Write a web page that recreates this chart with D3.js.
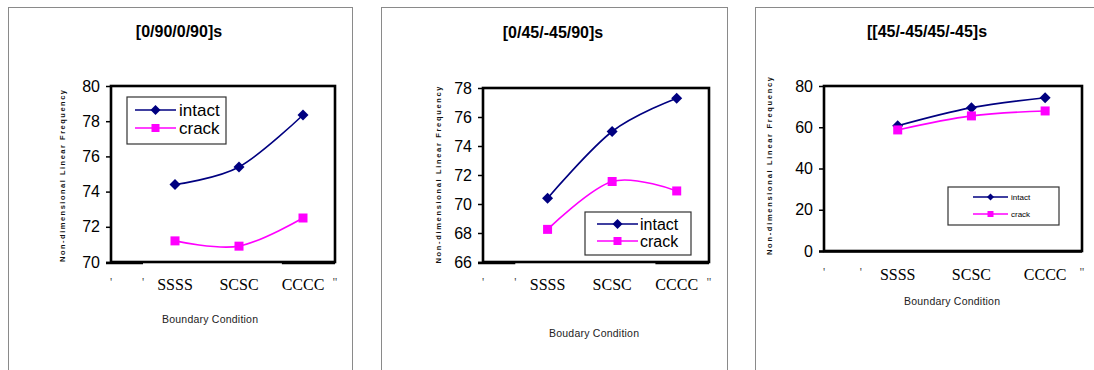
<!DOCTYPE html>
<html>
<head>
<meta charset="utf-8">
<script src="https://cdn.jsdelivr.net/npm/d3@7"></script>
<style>
  html, body { margin: 0; padding: 0; background: #fff; }
  svg { display: block; }
</style>
</head>
<body>
<svg id="chart" width="1094" height="370"></svg>
<script>
// ---- data ----
const categories = ["SSSS", "SCSC", "CCCC"];
const categoryX = [1, 2, 3];
const xTickValues = [0, 0.5, 1, 2, 3, 3.5];
const xTickLabels = ["'", "'", "SSSS", "SCSC", "CCCC", "''"];
const seriesNames = ["intact", "crack"];

const titles = ["[0/90/0/90]s", "[0/45/-45/90]s", "[[45/-45/45/-45]s"];
const xTitles = ["Boundary Condition", "Boudary Condition", "Boundary Condition"];
const yTitle = "Non-dimensional Linear Frequency";

const intactA = [74.4, 75.4, 78.35];
const crackA  = [71.2, 70.9, 72.5];
const intactB = [70.4, 75.0, 77.3];
const crackB  = [68.25, 71.55, 70.9];
const intactC = [60.7, 69.5, 74.3];
const crackC  = [58.7, 65.5, 67.9];

const yTicksA = [70, 72, 74, 76, 78, 80];
const yTicksB = [66, 68, 70, 72, 74, 76, 78];
const yTicksC = [0, 20, 40, 60, 80];

// ---- layout ----
const panels = [
  {
    frame: { x: 8, y: 7, w: 344, h: 400 },
    plot: { l: 111, t: 86, r: 335, b: 262 },
    title: { x: 179, y: 37 },
    yTitle: { x: 65, y: 176, len: 172 },
    xTitle: { x: 210, y: 323, len: 96 },
    xLabelY: 290,
    legend: { x0: 127, y0: 97, x1: 226, y1: 144, rows: [110, 128], lx0: 135, lx1: 176, tx: 179, font: 17, dm: 5, sq: 8 },
    intact: intactA, crack: crackA, yTicks: yTicksA, split: true
  },
  {
    frame: { x: 381, y: 7, w: 346, h: 400 },
    plot: { l: 483, t: 88, r: 709, b: 262 },
    title: { x: 553, y: 38 },
    yTitle: { x: 441, y: 175, len: 177 },
    xTitle: { x: 594, y: 337, len: 90 },
    xLabelY: 290,
    legend: { x0: 585, y0: 212, x1: 691, y1: 255, rows: [224, 241], lx0: 597, lx1: 638, tx: 640, font: 16, dm: 5, sq: 8 },
    intact: intactB, crack: crackB, yTicks: yTicksB, split: true
  },
  {
    frame: { x: 755, y: 7, w: 400, h: 400 },
    plot: { l: 824, t: 86, r: 1082, b: 251 },
    title: { x: 927, y: 37 },
    yTitle: { x: 772, y: 166, len: 178 },
    xTitle: { x: 952, y: 305, len: 96 },
    xLabelY: 280,
    legend: { x0: 948, y0: 187, x1: 1059, y1: 225, rows: [197, 214], lx0: 973, lx1: 1008, tx: 1011, font: 8, dm: 3.5, sq: 6 },
    intact: intactC, crack: crackC, yTicks: yTicksC, split: false
  }
];

const NAVY = "#000080";
const MAGENTA = "#ff00ff";
const svg = d3.select("#chart");

const diamond = s => `M0,${-s}L${s},0L0,${s}L${-s},0Z`;

panels.forEach((p, i) => {
  const g = svg.append("g");

  // outer frame
  g.append("rect")
    .attr("x", p.frame.x + 0.5).attr("y", p.frame.y + 0.5)
    .attr("width", p.frame.w).attr("height", p.frame.h)
    .attr("fill", "none").attr("stroke", "#8a8a8a").attr("stroke-width", 1);

  // title
  g.append("text")
    .attr("x", p.title.x).attr("y", p.title.y)
    .attr("text-anchor", "middle")
    .attr("font-family", "Arial, 'Liberation Sans', sans-serif")
    .attr("font-weight", "bold").attr("font-size", 16)
    .text(titles[i]);

  const x = d3.scaleLinear().domain([0, 3.5]).range([p.plot.l, p.plot.r]);
  const yDomain = d3.extent(p.yTicks);
  const y = d3.scaleLinear().domain(yDomain).range([p.plot.b, p.plot.t]);

  // y axis ticks and labels
  const yAxis = d3.axisLeft(y).tickValues(p.yTicks).tickSize(5).tickPadding(6).tickFormat(d3.format("d"));
  const ya = g.append("g").attr("transform", `translate(${p.plot.l},0)`).call(yAxis);
  ya.select(".domain").remove();
  ya.selectAll(".tick line").attr("stroke", "#000").attr("stroke-width", 1.5);
  ya.selectAll(".tick text")
    .attr("font-family", "Arial, 'Liberation Sans', sans-serif")
    .attr("font-size", 16).attr("fill", "#000");

  // plot border
  g.append("rect")
    .attr("x", p.plot.l).attr("y", p.plot.t)
    .attr("width", p.plot.r - p.plot.l).attr("height", p.plot.b - p.plot.t)
    .attr("fill", "none").attr("stroke", "#000").attr("stroke-width", 2.6);

  // x axis segments sitting under the bottom edge
  if (p.split) {
    [[0, 0.5], [2.67, 3.5]].forEach(([a, b]) => {
      g.append("line")
        .attr("x1", x(a) - (a === 0 ? 5 : 0)).attr("x2", x(b))
        .attr("y1", p.plot.b + 1).attr("y2", p.plot.b + 1)
        .attr("stroke", "#000").attr("stroke-width", 2.4);
    });
  } else {
    g.append("line")
      .attr("x1", x(0) - 5).attr("x2", x(3.5))
      .attr("y1", p.plot.b + 0.5).attr("y2", p.plot.b + 0.5)
      .attr("stroke", "#000").attr("stroke-width", 2.4);
  }

  // x tick labels
  g.append("g").selectAll("text")
    .data(xTickValues)
    .join("text")
    .attr("x", d => x(d))
    .attr("y", (d, j) => xTickLabels[j].length > 2 ? p.xLabelY : p.xLabelY - 4)
    .attr("text-anchor", "middle")
    .attr("font-family", "'Times New Roman', 'Liberation Serif', serif")
    .attr("font-size", (d, j) => xTickLabels[j].length > 2 ? 16 : 12)
    .attr("fill", (d, j) => xTickLabels[j].length > 2 ? "#000" : "#444")
    .text((d, j) => xTickLabels[j]);

  // axis titles
  g.append("text")
    .attr("transform", `translate(${p.yTitle.x},${p.yTitle.y}) rotate(-90)`)
    .attr("text-anchor", "middle")
    .attr("font-family", "Arial, 'Liberation Sans', sans-serif")
    .attr("font-weight", "bold").attr("font-size", 7.5)
    .attr("textLength", p.yTitle.len).attr("lengthAdjust", "spacing")
    .attr("fill", "#111")
    .text(yTitle);

  g.append("text")
    .attr("x", p.xTitle.x).attr("y", p.xTitle.y)
    .attr("text-anchor", "middle")
    .attr("font-family", "Arial, 'Liberation Sans', sans-serif")
    .attr("font-size", 10.5)
    .attr("textLength", p.xTitle.len).attr("lengthAdjust", "spacing")
    .attr("fill", "#222")
    .text(xTitles[i]);

  // series
  const line = d3.line()
    .x((d, j) => x(categoryX[j]))
    .y(d => y(d))
    .curve(d3.curveCardinal.tension(0));

  const series = [
    { name: seriesNames[0], values: p.intact, color: NAVY, shape: "diamond" },
    { name: seriesNames[1], values: p.crack, color: MAGENTA, shape: "square" }
  ];

  series.forEach(s => {
    g.append("path")
      .attr("d", line(s.values))
      .attr("fill", "none").attr("stroke", s.color).attr("stroke-width", 1.6);
    const mk = g.append("g").selectAll("path")
      .data(s.values)
      .join("path")
      .attr("transform", (d, j) => `translate(${x(categoryX[j])},${y(d)})`)
      .attr("fill", s.color);
    if (s.shape === "diamond") mk.attr("d", diamond(5.5));
    else mk.attr("d", "M-4.5,-4.5H4.5V4.5H-4.5Z");
  });

  // legend
  const L = p.legend;
  g.append("rect")
    .attr("x", L.x0).attr("y", L.y0)
    .attr("width", L.x1 - L.x0).attr("height", L.y1 - L.y0)
    .attr("fill", "#fff").attr("stroke", "#333").attr("stroke-width", 1.2);
  series.forEach((s, j) => {
    const ry = L.rows[j];
    const mx = (L.lx0 + L.lx1) / 2;
    g.append("line")
      .attr("x1", L.lx0).attr("x2", L.lx1).attr("y1", ry).attr("y2", ry)
      .attr("stroke", s.color).attr("stroke-width", 1.6);
    if (s.shape === "diamond") {
      g.append("path").attr("transform", `translate(${mx},${ry})`).attr("d", diamond(L.dm)).attr("fill", s.color);
    } else {
      const h = L.sq / 2;
      g.append("rect").attr("x", mx - h).attr("y", ry - h).attr("width", L.sq).attr("height", L.sq).attr("fill", s.color);
    }
    g.append("text")
      .attr("x", L.tx).attr("y", ry)
      .attr("dy", "0.35em")
      .attr("font-family", "Arial, 'Liberation Sans', sans-serif")
      .attr("font-size", L.font).attr("fill", "#000")
      .text(s.name);
  });
});
</script>
</body>
</html>
